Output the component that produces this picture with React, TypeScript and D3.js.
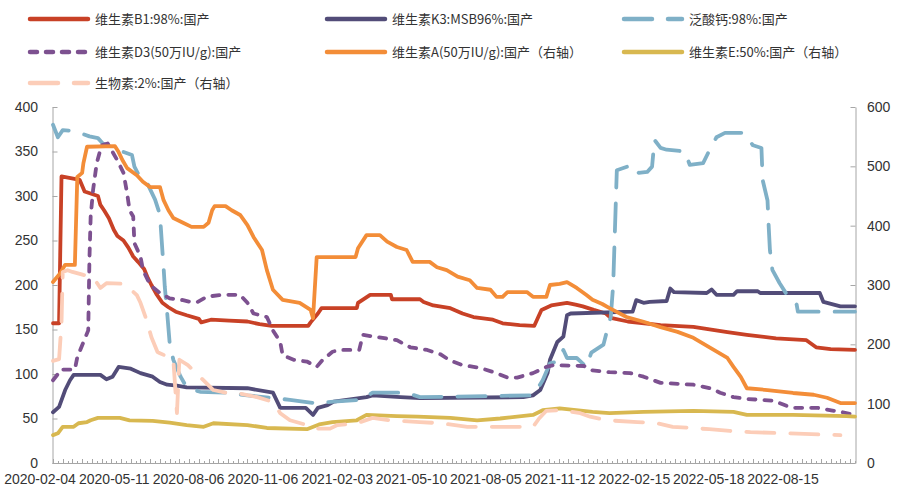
import React, { useEffect, useRef } from "react";
import * as d3 from "d3";

// x axis categories (labels spread evenly under the plot)
const dateLabels = [
  "2020-02-04", "2020-05-11", "2020-08-06", "2020-11-06", "2021-02-03", "2021-05-10",
  "2021-08-05", "2021-11-12", "2022-02-15", "2022-05-18", "2022-08-15",
];
const lastDay = 660;

const leftTicks = [0, 50, 100, 150, 200, 250, 300, 350, 400];
const rightTicks = [0, 100, 200, 300, 400, 500, 600];

// [trading day, price]
const vitB1 = [
  [0, 157], [5, 157], [7, 322], [22, 318], [26, 305], [37, 300], [39, 290], [42, 284], [46, 275],
  [50, 262], [53, 255], [58, 250], [62, 242], [66, 232], [70, 226], [75, 218], [78, 208], [81, 200],
  [85, 190], [90, 180], [95, 175], [101, 170], [110, 166], [120, 162], [122, 158], [130, 161],
  [145, 160], [160, 159], [170, 156], [180, 154], [210, 154], [212, 158], [218, 168], [221, 174],
  [250, 174], [251, 180], [261, 189], [278, 189], [279, 184], [302, 184], [305, 181], [313, 177],
  [327, 174], [337, 168], [346, 164], [362, 161], [370, 157], [384, 155], [396, 154], [400, 166],
  [402, 172], [410, 177], [423, 180], [430, 178], [436, 176], [445, 172], [455, 168], [459, 163],
  [473, 159], [500, 155], [527, 153], [555, 147], [571, 144], [595, 140], [620, 138], [628, 130],
  [640, 128], [660, 127],
];

const vitK3 = [
  [0, 57], [5, 63], [10, 82], [14, 93], [17, 99], [39, 99], [44, 94], [49, 97], [54, 108], [64, 106],
  [72, 101], [82, 97], [88, 91], [94, 88], [102, 87], [110, 85], [160, 84], [181, 79], [187, 62],
  [208, 62], [214, 54], [218, 62], [226, 65], [231, 69], [258, 74], [263, 76], [286, 74], [302, 73],
  [387, 74], [395, 76], [401, 82], [407, 101], [409, 116], [415, 136], [420, 142], [423, 166],
  [426, 168], [477, 170], [480, 183], [486, 180], [491, 181], [505, 182], [508, 196], [511, 192],
  [538, 191], [542, 195], [546, 189], [560, 189], [563, 193], [580, 193], [582, 191], [631, 191],
  [634, 181], [648, 176], [660, 176],
];

const calciumPantothenate = [
  [0, 380], [4, 366], [8, 374], [16, 373], [22, 371], [30, 367], [37, 365], [41, 359], [57, 350],
  [65, 346], [67, 333], [72, 320], [77, 316], [84, 296], [88, 279], [90, 239], [91, 220], [92, 198],
  [94, 168], [96, 135], [99, 116], [105, 97], [110, 85], [121, 80], [143, 79], [160, 76], [181, 73],
  [195, 71], [217, 67], [231, 69], [253, 71], [263, 79], [291, 79], [302, 74], [395, 76], [398, 82],
  [403, 93], [409, 112], [415, 114], [420, 127], [423, 118], [431, 118], [439, 108], [443, 124],
  [453, 133], [456, 149], [459, 164], [461, 200], [464, 329], [477, 335], [482, 326], [489, 327],
  [493, 333], [495, 363], [500, 354], [505, 352], [520, 350], [524, 335], [535, 337], [539, 348],
  [546, 366], [553, 371], [568, 371], [576, 357], [583, 354], [584, 318], [588, 295], [589, 265],
  [590, 239], [592, 217], [598, 202], [604, 189], [612, 178], [613, 170], [660, 170],
];

const vitD3 = [
  [0, 93], [4, 100], [6, 105], [18, 105], [20, 119], [29, 149], [30, 230], [31, 277], [33, 307],
  [36, 337], [40, 357], [45, 359], [53, 340], [58, 326], [61, 303], [63, 284], [66, 277], [67, 247],
  [72, 232], [74, 217], [80, 200], [88, 191], [96, 185], [107, 183], [113, 181], [119, 181],
  [127, 187], [140, 189], [154, 189], [160, 180], [165, 168], [176, 164], [181, 149], [187, 136],
  [189, 121], [198, 116], [209, 114], [217, 108], [222, 116], [230, 125], [236, 127], [252, 127],
  [255, 144], [283, 138], [294, 130], [308, 127], [319, 122], [327, 115], [337, 110], [351, 107],
  [365, 101], [374, 96], [382, 96], [395, 101], [406, 108], [412, 110], [437, 109], [444, 104],
  [458, 102], [475, 101], [486, 97], [500, 90], [527, 88], [541, 84], [549, 79], [560, 74],
  [571, 72], [593, 70], [604, 64], [609, 62], [629, 62], [637, 60], [650, 57], [656, 55], [660, 55],
];

const vitA = [
  [0, 305], [6, 320], [10, 334], [18, 334], [20, 482], [24, 489], [25, 505], [28, 533], [51, 534],
  [54, 524], [57, 511], [61, 497], [69, 485], [74, 474], [80, 465], [88, 465], [91, 443], [95, 426],
  [99, 413], [107, 405], [114, 398], [124, 398], [128, 405], [131, 426], [133, 433], [142, 433],
  [147, 426], [154, 418], [160, 401], [165, 381], [172, 359], [176, 325], [181, 292], [189, 275],
  [203, 270], [212, 258], [214, 244], [217, 347], [249, 347], [251, 362], [258, 384], [269, 384],
  [275, 373], [283, 364], [291, 359], [296, 339], [310, 339], [316, 330], [324, 325], [333, 314],
  [343, 308], [349, 295], [360, 292], [365, 280], [370, 280], [374, 288], [390, 288], [395, 280],
  [406, 280], [409, 300], [417, 302], [423, 305], [431, 295], [439, 283], [444, 275], [452, 268],
  [458, 261], [472, 246], [486, 238], [500, 229], [514, 221], [527, 211], [541, 194], [555, 177],
  [560, 162], [566, 145], [571, 126], [588, 123], [609, 118], [626, 115], [637, 110], [648, 101],
  [660, 101],
];

const vitE = [
  [0, 47], [4, 50], [8, 61], [17, 61], [21, 67], [28, 69], [31, 72], [37, 76], [55, 76], [63, 72],
  [82, 71], [96, 68], [110, 64], [124, 61], [132, 67], [160, 64], [176, 59], [209, 57], [219, 65],
  [230, 69], [250, 72], [258, 81], [283, 79], [300, 78], [327, 76], [349, 72], [368, 75], [395, 81],
  [403, 89], [417, 92], [444, 86], [458, 84], [486, 86], [527, 88], [560, 86], [571, 81], [609, 81],
  [653, 79], [660, 78],
];

const biotin = [
  [0, 172], [5, 175], [7, 236], [8, 322], [12, 325], [16, 322], [25, 317], [33, 313], [39, 295],
  [44, 303], [58, 302], [61, 298], [69, 283], [72, 270], [77, 241], [81, 212], [86, 187], [88, 185],
  [99, 175], [102, 84], [104, 174], [111, 165], [121, 145], [126, 135], [132, 123], [143, 118],
  [154, 117], [168, 111], [181, 103], [187, 84], [195, 72], [209, 64], [214, 58], [228, 58],
  [234, 64], [250, 67], [263, 76], [277, 72], [302, 69], [319, 67], [341, 61], [395, 61], [400, 75],
  [406, 88], [419, 89], [434, 84], [442, 78], [456, 72], [481, 69], [497, 67], [510, 61], [540, 57],
  [557, 54], [574, 52], [604, 50], [648, 47],
];

const seriesList = [
  { name: "维生素B1:98%:国产", data: vitB1, color: "#C84126", axis: "left", dash: null },
  { name: "维生素K3:MSB96%:国产", data: vitK3, color: "#524C78", axis: "left", dash: null },
  { name: "泛酸钙:98%:国产", data: calciumPantothenate, color: "#7FB0C7", axis: "left", dash: "28,16" },
  { name: "维生素D3(50万IU/g):国产", data: vitD3, color: "#7D5190", axis: "left", dash: "7,9" },
  { name: "维生素A(50万IU/g):国产（右轴）", data: vitA, color: "#F38D38", axis: "right", dash: null },
  { name: "维生素E:50%:国产（右轴）", data: vitE, color: "#D8B850", axis: "right", dash: null },
  { name: "生物素:2%:国产（右轴）", data: biotin, color: "#FCCDB8", axis: "right", dash: "28,16" },
];

const W = 911;
const H = 488;
const margin = { top: 107, right: 56, bottom: 25, left: 53 };
const numFont = "'Liberation Sans', Arial, sans-serif";
const cjkFont = "'Liberation Sans Narrow', 'Noto Sans CJK SC', sans-serif";

const App = () => {
  const ref = useRef(null);

  useEffect(() => {
    const svg = d3.select(ref.current);
    svg.selectAll("*").remove();

    const x = d3.scaleLinear().domain([0, lastDay]).range([margin.left, W - margin.right]);
    const yL = d3.scaleLinear().domain([0, 400]).range([H - margin.bottom, margin.top]);
    const yR = d3.scaleLinear().domain([0, 600]).range([H - margin.bottom, margin.top]);
    const xLabel = d3.scalePoint().domain(dateLabels).range([40, 783]);
    const base = H - margin.bottom;

    // left / right axes, ticks pointing inward
    const gl = svg.append("g")
      .attr("transform", `translate(${margin.left - 0.5},0)`)
      .call(d3.axisLeft(yL).tickValues(leftTicks).tickSizeInner(-5).tickSizeOuter(0).tickPadding(14.5));
    const gr = svg.append("g")
      .attr("transform", `translate(${W - margin.right + 0.5},0)`)
      .call(d3.axisRight(yR).tickValues(rightTicks).tickSizeInner(-5).tickSizeOuter(0).tickPadding(11.5));
    [gl, gr].forEach(g => {
      g.select(".domain").attr("stroke", "#A6A6A6");
      g.selectAll(".tick line").attr("stroke", "#A6A6A6");
      g.selectAll(".tick text")
        .attr("fill", "#333")
        .style("font-family", numFont)
        .style("font-size", "14px");
    });

    // x axis line with small category ticks
    const gx = svg.append("g");
    gx.append("line")
      .attr("x1", margin.left - 0.5).attr("x2", W - margin.right + 0.5)
      .attr("y1", base + 0.5).attr("y2", base + 0.5)
      .attr("stroke", "#A6A6A6");
    gx.selectAll("line.minor")
      .data(d3.range(0, lastDay + 1, 4))
      .join("line")
      .attr("class", "minor")
      .attr("x1", d => Math.round(x(d)) + 0.5).attr("x2", d => Math.round(x(d)) + 0.5)
      .attr("y1", base).attr("y2", (d, i) => base - (i % 2 === 0 ? 4 : 2))
      .attr("stroke", "#A6A6A6");
    gx.selectAll("text")
      .data(dateLabels)
      .join("text")
      .attr("x", d => xLabel(d))
      .attr("y", base + 21)
      .attr("text-anchor", "middle")
      .attr("fill", "#333")
      .style("font-family", numFont)
      .style("font-size", "14px")
      .text(d => d);

    // series
    const gs = svg.append("g").attr("fill", "none");
    seriesList.forEach(s => {
      const yS = s.axis === "left" ? yL : yR;
      const line = d3.line().x(d => x(d[0])).y(d => yS(d[1]));
      gs.append("path")
        .datum(s.data)
        .attr("d", line)
        .attr("stroke", s.color)
        .attr("stroke-width", 3.8)
        .attr("stroke-linejoin", "round")
        .attr("stroke-linecap", "round")
        .attr("stroke-dasharray", s.dash);
    });

    // legend, three columns
    const cols = [30, 327, 624];
    const rows = [19, 52, 83];
    const lg = svg.append("g");
    seriesList.forEach((s, i) => {
      const cx = cols[i % 3];
      const cy = rows[Math.floor(i / 3)];
      lg.append("line")
        .attr("x1", cx).attr("x2", cx + 58)
        .attr("y1", cy).attr("y2", cy)
        .attr("stroke", s.color)
        .attr("stroke-width", 4.5)
        .attr("stroke-linecap", "round")
        .attr("stroke-dasharray", s.dash);
      lg.append("text")
        .attr("x", cx + 65)
        .attr("y", cy)
        .attr("dy", "0.35em")
        .attr("fill", "#333")
        .style("font-family", cjkFont)
        .style("font-size", "13px")
        .text(s.name);
    });
  }, []);

  return (
    <svg
      ref={ref}
      width={W}
      height={H}
      style={{ position: "absolute", left: 0, top: 0, background: "#fff" }}
    />
  );
};

export default App;
